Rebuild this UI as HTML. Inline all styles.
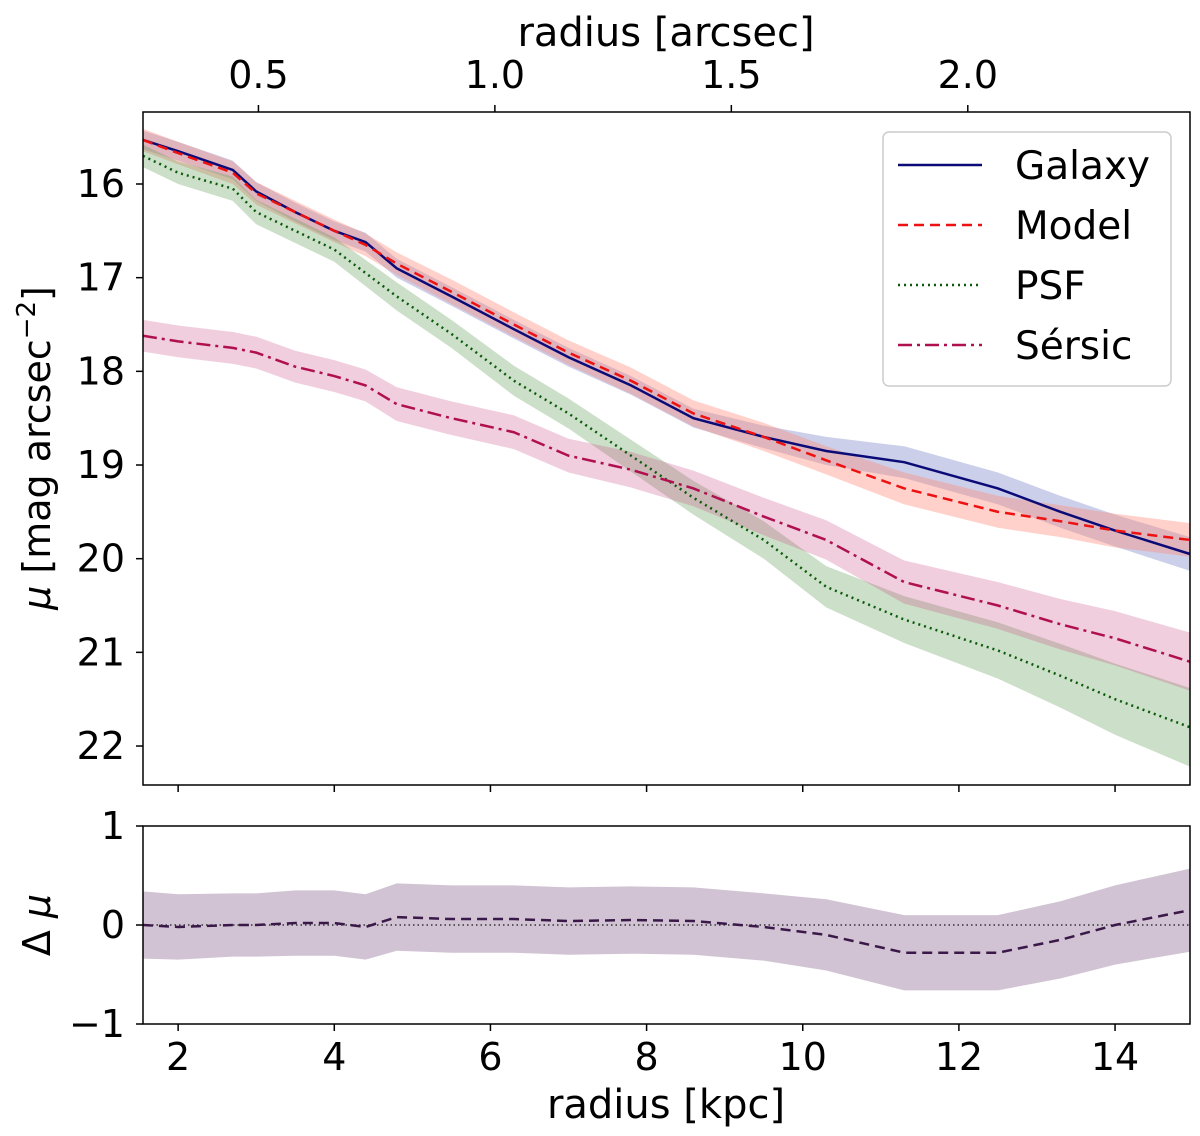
<!DOCTYPE html>
<html><head><meta charset="utf-8"><style>
html,body{margin:0;padding:0;background:#fff;}
svg{display:block;font-family:"DejaVu Sans","Liberation Sans",sans-serif;}
</style></head><body>
<svg id="chart" width="1200" height="1136" viewBox="0 0 1200 1136" xmlns="http://www.w3.org/2000/svg"></svg>
<script>
const radii = [1.55,2.0,2.7,3.0,3.5,4.0,4.4,4.8,5.5,6.3,7.0,7.8,8.6,9.5,10.3,11.3,12.5,13.3,14.0,14.96];
const galaxy = [15.53,15.65,15.85,16.08,16.3,16.5,16.62,16.9,17.2,17.55,17.85,18.15,18.5,18.7,18.85,18.97,19.25,19.5,19.7,19.95];
const galaxyErr = [0.1,0.1,0.1,0.1,0.1,0.1,0.1,0.1,0.1,0.1,0.1,0.1,0.1,0.12,0.15,0.17,0.17,0.17,0.17,0.18];
const model = [15.53,15.67,15.88,16.1,16.3,16.5,16.65,16.85,17.15,17.5,17.8,18.1,18.45,18.7,18.95,19.25,19.5,19.6,19.7,19.8];
const modelErr = [0.12,0.12,0.12,0.12,0.12,0.12,0.12,0.12,0.13,0.13,0.13,0.14,0.14,0.15,0.15,0.17,0.17,0.17,0.18,0.18];
const psf = [15.7,15.88,16.05,16.3,16.5,16.7,16.95,17.2,17.6,18.1,18.45,18.9,19.35,19.8,20.3,20.65,20.98,21.25,21.5,21.8];
const psfErr = [0.12,0.12,0.13,0.13,0.13,0.13,0.14,0.15,0.15,0.16,0.16,0.17,0.18,0.2,0.22,0.25,0.3,0.34,0.38,0.42];
const sersic = [17.62,17.68,17.75,17.8,17.95,18.05,18.15,18.35,18.5,18.65,18.9,19.05,19.25,19.55,19.8,20.25,20.5,20.7,20.85,21.1];
const sersicErr = [0.17,0.17,0.17,0.17,0.17,0.17,0.17,0.18,0.18,0.18,0.18,0.19,0.19,0.2,0.21,0.23,0.25,0.27,0.29,0.31];
const resid = [0,-0.02,0,0,0.02,0.02,-0.02,0.08,0.06,0.06,0.04,0.05,0.04,-0.02,-0.1,-0.28,-0.28,-0.15,0,0.15];
const residErr = [0.34,0.33,0.32,0.32,0.33,0.33,0.33,0.34,0.34,0.34,0.34,0.34,0.34,0.34,0.36,0.38,0.38,0.39,0.4,0.42];
const xTicks = [2,4,6,8,10,12,14];
const topTicks = [0.5,1.0,1.5,2.0];
const yTicks = [16,17,18,19,20,21,22];
const resTicks = [1,0,-1];

const NS="http://www.w3.org/2000/svg";
const svg=document.getElementById('chart');
const L=143,R=1190,T1=112,B1=785,T2=826,B2=1024;
const X0=1.55,X1=14.96;
const x=r=>L+(r-X0)/(X1-X0)*(R-L);
const y=m=>184+(m-16)*93.67;
const yr=v=>925-v*99;
const kpcPerArcsec=1/0.1651;
function el(tag,attrs,parent){const e=document.createElementNS(NS,tag);for(const k in attrs)e.setAttribute(k,attrs[k]);(parent||svg).appendChild(e);return e;}
function txt(s,attrs,parent){const e=el('text',attrs,parent);e.textContent=s;return e;}

const defs=el('defs',{});
const c1=el('clipPath',{id:'c1'},defs);el('rect',{x:L,y:T1,width:R-L,height:B1-T1},c1);
const c2=el('clipPath',{id:'c2'},defs);el('rect',{x:L,y:T2,width:R-L,height:B2-T2},c2);

function band(vals,errs,fy,color,op,name,clip){
  let d='';radii.forEach((r,i)=>{d+=(i?'L':'M')+x(r)+','+fy(vals[i]-errs[i]);});
  for(let i=radii.length-1;i>=0;i--)d+='L'+x(radii[i])+','+fy(vals[i]+errs[i]);
  const p=el('path',{d:d+'Z',fill:color,'fill-opacity':op,'clip-path':clip});
  
  
}
function line(vals,fy,color,dash,w,name,clip){
  const pts=radii.map((r,i)=>x(r)+','+fy(vals[i])).join(' ');
  const p=el('polyline',{points:pts,fill:'none',stroke:color,'stroke-width':w,'stroke-dasharray':dash,'clip-path':clip});
  
  
}
band(galaxy,galaxyErr,y,'#7f88c8',0.4,'galaxy-band','url(#c1)');
band(model,modelErr,y,'#ff8c7a',0.4,'model-band','url(#c1)');
band(psf,psfErr,y,'#5f9a55',0.32,'psf-band','url(#c1)');
band(sersic,sersicErr,y,'#c8508a',0.28,'sersic-band','url(#c1)');
line(galaxy,y,'#0b0b78','none',2.5,'galaxy-line','url(#c1)');
line(model,y,'#ee1111','10,6',2.5,'model-line','url(#c1)');
line(psf,y,'#0a5a0a','2,4',2.5,'psf-line','url(#c1)');
line(sersic,y,'#b0104f','14,5,3,5',2.5,'sersic-line','url(#c1)');

band(resid,residErr,yr,'#9a7aa0',0.45,'residual-band','url(#c2)');
const zl=el('line',{x1:L,x2:R,y1:yr(0),y2:yr(0),stroke:'#333','stroke-width':1.5,'stroke-dasharray':'1.5,3'});

line(resid,yr,'#3a1848','10,6',2.5,'residual-line','url(#c2)');

el('rect',{x:L,y:T1,width:R-L,height:B1-T1,fill:'none',stroke:'#000','stroke-width':1.5,});
el('rect',{x:L,y:T2,width:R-L,height:B2-T2,fill:'none',stroke:'#000','stroke-width':1.5,});

xTicks.forEach(t=>{
  const xx=x(t);
  el('line',{x1:xx,x2:xx,y1:B1,y2:B1+7,stroke:'#000','stroke-width':1.5});
  el('line',{x1:xx,x2:xx,y1:B2,y2:B2+7,stroke:'#000','stroke-width':1.5});
  const tl=txt(String(t),{x:xx,y:B2+46,'font-size':38,'text-anchor':'middle'});
  
});
topTicks.forEach(t=>{
  const xx=x(t*kpcPerArcsec);
  el('line',{x1:xx,x2:xx,y1:T1,y2:T1-7,stroke:'#000','stroke-width':1.5});
  const tl=txt(t.toFixed(1),{x:xx,y:T1-24,'font-size':38,'text-anchor':'middle'});
  
});
yTicks.forEach(t=>{
  const yy=y(t);
  el('line',{x1:L,x2:L-7,y1:yy,y2:yy,stroke:'#000','stroke-width':1.5});
  const tl=txt(String(t),{x:L-18,y:yy+13,'font-size':38,'text-anchor':'end'});
  
});
resTicks.forEach(t=>{
  const yy=yr(t);
  el('line',{x1:L,x2:L-7,y1:yy,y2:yy,stroke:'#000','stroke-width':1.5});
  const tl=txt(t<0?'\u2212'+Math.abs(t):String(t),{x:L-18,y:yy+13,'font-size':38,'text-anchor':'end'});
  
});
</script>
<svg style="position:absolute;left:0;top:0" width="1200" height="1136" xmlns="http://www.w3.org/2000/svg" font-family="DejaVu Sans, Liberation Sans, sans-serif">
<text x="666" y="46" font-size="40" text-anchor="middle">radius [arcsec]</text>
<text x="666" y="1118" font-size="40" text-anchor="middle">radius [kpc]</text>
<text transform="translate(50,448) rotate(-90)" font-size="38" text-anchor="middle"><tspan font-style="italic">μ</tspan> [mag arcsec<tspan baseline-shift="super" font-size="26">−2</tspan>]</text>
<text transform="translate(50,925) rotate(-90)" font-size="38" text-anchor="middle">Δ <tspan font-style="italic">μ</tspan></text>
<g>
<rect x="883" y="132" width="288" height="254" rx="6" fill="#fff" fill-opacity="0.85" stroke="#ccc" stroke-width="1.5"/>
<line x1="898" x2="982" y1="165" y2="165" stroke="#0b0b78" stroke-width="2.5"/>
<text x="1015" y="179" font-size="39">Galaxy</text>
<line x1="898" x2="982" y1="225" y2="225" stroke="#ee1111" stroke-width="2.5" stroke-dasharray="10,6"/>
<text x="1015" y="239" font-size="39">Model</text>
<line x1="898" x2="982" y1="285" y2="285" stroke="#0a5a0a" stroke-width="2.5" stroke-dasharray="2,4"/>
<text x="1015" y="299" font-size="39">PSF</text>
<line x1="898" x2="982" y1="345" y2="345" stroke="#b0104f" stroke-width="2.5" stroke-dasharray="14,5,3,5"/>
<text x="1015" y="359" font-size="39">Sérsic</text>
</g>
</svg>
</body></html>
